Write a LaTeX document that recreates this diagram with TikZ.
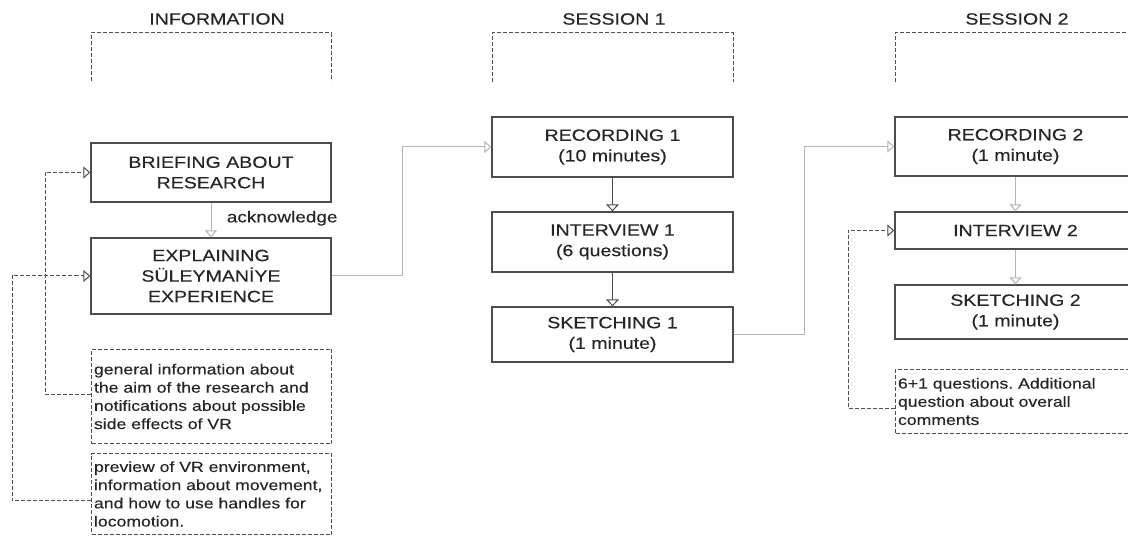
\documentclass[tikz,border=0pt]{standalone}
\usepackage{fontspec}
\setmainfont{Liberation Sans}[FakeStretch=1.2, FakeBold=0.25]
\usetikzlibrary{arrows.meta}
\frenchspacing
\hyphenpenalty=10000
\definecolor{txt}{HTML}{262626}
\definecolor{boxc}{HTML}{4D4D4D}
\definecolor{dashc}{HTML}{505050}
\definecolor{lgray}{HTML}{B5B5B5}
\tikzset{
  box/.style={draw=boxc, line width=1.3pt, rectangle, minimum width=241pt, align=center, text=txt, inner sep=0pt, font=\fontsize{16.3}{20.5}\selectfont},
  note/.style={draw=dashc, line width=1pt, dash pattern=on 4pt off 2pt, rectangle, anchor=north west, text width=235pt, align=left, text=txt, inner xsep=2.5pt, inner ysep=0pt, font=\fontsize{14.7}{18.2}\selectfont},
  bracketline/.style={draw=dashc, line width=1pt, dash pattern=on 4pt off 2pt},
  title/.style={text=txt, font=\fontsize{16.3}{18}\selectfont},
  dline/.style={draw=dashc, line width=1pt, dash pattern=on 4pt off 2pt, -{Triangle[open, length=7pt, width=12pt, fill=white]}},
  gline/.style={draw=lgray, line width=1pt, -{Triangle[open, length=7pt, width=12pt, fill=white]}},
  kline/.style={draw=boxc, line width=1pt, -{Triangle[open, length=7pt, width=13pt, fill=white]}},
}
\begin{document}
\begin{tikzpicture}[x=1pt, y=-1pt]
\useasboundingbox (0,0) rectangle (1128,537);
\fill[white] (0,0) rectangle (1128,537);

% titles and brackets
\node[title] (t0) at (217,19) {INFORMATION};
\node[title] (t1) at (614,19) {SESSION 1};
\node[title] (t2) at (1017,19) {SESSION 2};
\draw[bracketline] (91,81) -- (91,33) -- (331,33) -- (331,81);
\draw[bracketline] (492,82) -- (492,33) -- (733,33) -- (733,82);
\draw[bracketline] (895,82) -- (895,33) -- (1136,33) -- (1136,82);

% information column
\node[box, minimum width=240pt, minimum height=59pt] (brief) at (211,172.5) {BRIEFING ABOUT\\RESEARCH};
\node[box, minimum width=240pt, minimum height=76pt] (expl) at (211,276) {EXPLAINING\\SÜLEYMANİYE\\EXPERIENCE};
\node[note, minimum height=94pt] (n1) at (91,349) {\mbox{general information about}\\\mbox{the aim of the research and}\\\mbox{notifications about possible}\\\mbox{side effects of VR}};
\node[note, minimum height=81pt] (n2) at (91,453) {\mbox{preview of VR environment,}\\\mbox{information about movement,}\\\mbox{and how to use handles for}\\\mbox{locomotion.}};

% session 1
\node[box, minimum height=60pt] (rec1) at (612.5,147) {RECORDING 1\\(10 minutes)};
\node[box, minimum height=60pt] (int1) at (612.5,242) {INTERVIEW 1\\(6 questions)};
\node[box, minimum height=55pt] (sk1) at (612.5,334.5) {SKETCHING 1\\(1 minute)};

% session 2
\node[box, minimum height=59pt] (rec2) at (1015.5,146.5) {RECORDING 2\\(1 minute)};
\node[box, minimum height=37pt] (int2) at (1015.5,230.5) {INTERVIEW 2};
\node[box, minimum height=54pt] (sk2) at (1015.5,312) {SKETCHING 2\\(1 minute)};
\node[note, minimum height=64pt, text width=236pt] (n3) at (895,369) {\mbox{6+1 questions. Additional}\\\mbox{question about overall}\\\mbox{comments}};

% connectors
\draw[gline] (brief.south) -- (expl.north) node[pos=0.45, right=12pt, anchor=west, text=txt, font=\fontsize{15.8}{18}\selectfont] (ack) {acknowledge};
\draw[kline] (rec1.south) -- (int1.north);
\draw[kline] (int1.south) -- (sk1.north);
\draw[gline] (rec2.south) -- (int2.north);
\draw[gline] (int2.south) -- (sk2.north);
\draw[gline] (expl.east) -- ++(71,0) |- (rec1.west);
\draw[gline] (sk1.east) -- ++(71,0) |- (rec2.west);
\draw[dline] ([yshift=2pt]n1.west) -- ++(-46,0) |- (brief.west);
\draw[dline] ([yshift=-6.5pt]n2.west) -- ++(-79,0) |- (expl.west);
\draw[dline] ([yshift=-7pt]n3.west) -- ++(-47,0) |- (int2.west);
\end{tikzpicture}
\end{document}
